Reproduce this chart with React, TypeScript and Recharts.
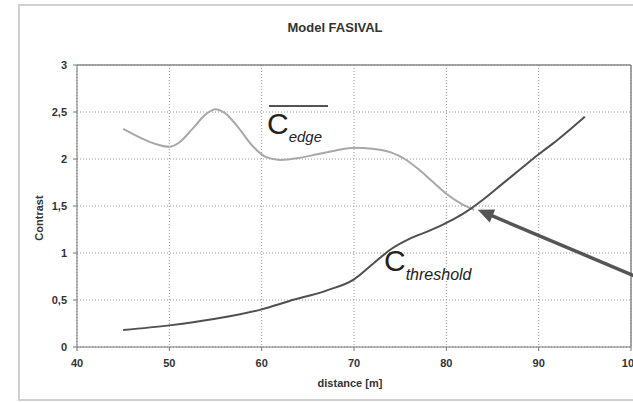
import React from 'react';
import { LineChart, Line, XAxis, YAxis, CartesianGrid, ReferenceLine } from 'recharts';

// C_edge (light gray curve)
const edgeX = [45, 47, 48.5, 50, 51, 52.5, 54, 55, 56, 57.5, 59, 60.5, 62, 64, 66, 68, 70, 72, 74, 75.5, 77, 78.5, 80, 81.5, 83];
const edgeY = [2.32, 2.22, 2.16, 2.13, 2.17, 2.32, 2.48, 2.53, 2.49, 2.33, 2.14, 2.02, 1.99, 2.01, 2.05, 2.09, 2.12, 2.11, 2.07, 2.0, 1.89, 1.76, 1.63, 1.53, 1.46];

// C_threshold (dark curve)
const thrX = [45, 50, 55, 60, 63, 67, 70, 72, 74, 76, 78, 80, 82, 84, 86, 88, 90, 92, 95];
const thrY = [0.18, 0.23, 0.3, 0.4, 0.49, 0.6, 0.72, 0.88, 1.04, 1.15, 1.23, 1.32, 1.43, 1.57, 1.73, 1.89, 2.05, 2.2, 2.45];

const xTicks = [40, 50, 60, 70, 80, 90, 100];
const yTicks = [0, 0.5, 1, 1.5, 2, 2.5, 3];

const edgeData = edgeX.map((x, i) => ({ x, y: edgeY[i] }));
const thrData = thrX.map((x, i) => ({ x, y: thrY[i] }));

const arrowSeg = [{ x: 101, y: 0.73 }, { x: 83.4, y: 1.46 }];

const FONT = '"Liberation Sans", Arial, sans-serif';

const Arrow = (p: any) => {
  const { x1, y1, x2, y2 } = p;
  const dx = x2 - x1;
  const dy = y2 - y1;
  const len = Math.sqrt(dx * dx + dy * dy) || 1;
  const ux = dx / len;
  const uy = dy / len;
  const hl = 16;
  const hw = 7;
  const bx = x2 - ux * hl;
  const by = y2 - uy * hl;
  const pts = `${x2},${y2} ${bx - uy * hw},${by + ux * hw} ${bx + uy * hw},${by - ux * hw}`;
  return (
    <g>
      <line x1={x1} y1={y1} x2={bx + ux * 2} y2={by + uy * 2} stroke="#555" strokeWidth={3.5} />
      <polygon points={pts} fill="#555" />
    </g>
  );
};

export default function App() {
  return (
    <div style={{ position: 'absolute', left: 0, top: 0, width: 633, height: 402, overflow: 'hidden', background: '#fff', fontFamily: FONT }}>
      <div style={{ position: 'absolute', left: 18, top: 4, width: 640, height: 393, border: '2px solid #d0d0d0' }} />
      <div style={{ position: 'absolute', left: 0, top: 20, width: 670, textAlign: 'center', fontSize: 13, fontWeight: 'bold', color: '#333' }}>
        Model FASIVAL
      </div>
      <LineChart
        width={680}
        height={402}
        margin={{ top: 65, right: 49, left: 47, bottom: 25 }}
        style={{ position: 'absolute', left: 0, top: 0 }}
      >
        <CartesianGrid stroke="#9a9a9a" strokeDasharray="1 2" />
        <XAxis
          dataKey="x"
          type="number"
          domain={[40, 100]}
          ticks={xTicks}
          allowDataOverflow
          height={30}
          tickSize={4}
          tickMargin={8}
          stroke="#777"
          tick={{ fontSize: 11, fill: '#333', fontFamily: FONT, fontWeight: 'bold' }}
        />
        <YAxis
          dataKey="y"
          type="number"
          domain={[0, 3]}
          ticks={yTicks}
          width={30}
          tickSize={4}
          tickMargin={6}
          stroke="#777"
          tickFormatter={(v: number) => String(v).replace('.', ',')}
          tick={{ fontSize: 11, fill: '#333', fontFamily: FONT, fontWeight: 'bold' }}
        />
        <ReferenceLine y={3} stroke="#888" strokeWidth={1.5} />
        <ReferenceLine x={100} stroke="#888" strokeWidth={1.5} />
        <Line data={edgeData} dataKey="y" type="monotone" stroke="#a8a8a8" strokeWidth={2} dot={false} isAnimationActive={false} />
        <Line data={thrData} dataKey="y" type="monotone" stroke="#505050" strokeWidth={2} dot={false} isAnimationActive={false} />
        <ReferenceLine segment={arrowSeg} ifOverflow="visible" shape={Arrow} />
      </LineChart>
      <div style={{ position: 'absolute', left: 19, top: 219, width: 40, height: 0 }}>
        <div style={{ position: 'absolute', left: -20, top: -7, width: 80, textAlign: 'center', transform: 'rotate(-90deg)', fontSize: 11, fontWeight: 'bold', color: '#333', whiteSpace: 'nowrap' }}>
          Contrast
        </div>
      </div>
      <div style={{ position: 'absolute', left: 300, top: 377, width: 100, textAlign: 'center', fontSize: 11, fontWeight: 'bold', color: '#333' }}>
        distance [m]
      </div>
      <div style={{ position: 'absolute', left: 269, top: 105, width: 59, height: 2, background: '#555' }} />
      <div style={{ position: 'absolute', left: 267, top: 107, whiteSpace: 'nowrap', color: '#222' }}>
        <span style={{ fontSize: 30 }}>C</span>
        <span style={{ fontSize: 15, fontStyle: 'italic', position: 'relative', top: 8 }}>edge</span>
      </div>
      <div style={{ position: 'absolute', left: 384, top: 244, whiteSpace: 'nowrap', color: '#222' }}>
        <span style={{ fontSize: 30 }}>C</span>
        <span style={{ fontSize: 16, fontStyle: 'italic', position: 'relative', top: 9 }}>threshold</span>
      </div>
    </div>
  );
}
